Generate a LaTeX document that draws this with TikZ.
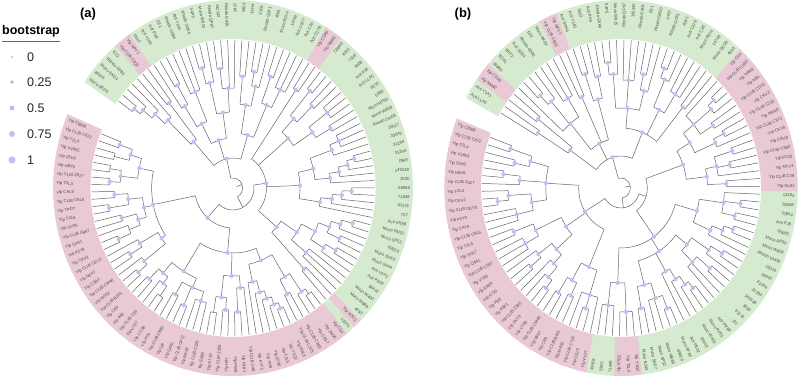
\documentclass[tikz,border=0pt]{standalone}
\usepackage{fontspec}
\setmainfont{Liberation Sans}
\definecolor{bgreen}{RGB}{213,234,207}
\definecolor{bpink}{RGB}{232,201,213}
\definecolor{bdot}{RGB}{192,192,248}
\definecolor{brc}{RGB}{100,100,100}
\definecolor{labc}{RGB}{75,75,75}
\newcount\leafidx
\newif\iffirstdone
\def\curR{0}
\def\retA{0}
\def\childdone{\iffirstdone\else\let\myFirst\retA\firstdonetrue\fi}
\tikzset{
  br/.style={draw=brc,line width=0.5pt},
  bs/.style={fill=bdot},
  lab/.style={font=\fontsize{4.2}{5}\selectfont,text=labc,inner sep=0pt},
  legtxt/.style={font=\fontsize{12.5}{14}\selectfont,text=black!85,inner sep=0pt,anchor=west}
}
\newcommand\Lf[2]{%
  \pgfmathsetmacro\la{\aZero+\the\leafidx*\aStep}%
  \pgfmathsetmacro\lo{\la-\aStep/2-0.2}%
  \pgfmathsetmacro\hi{\la+\aStep/2+0.2}%
  \fill[#1] (\lo:\bandIn pt) arc[start angle=\lo,end angle=\hi,radius=\bandIn pt] -- (\hi:\bandOut pt) arc[start angle=\hi,end angle=\lo,radius=\bandOut pt] -- cycle;%
  \draw[br] (\la:\curR pt) -- (\la:\tipR pt);%
  \pgfmathsetmacro\cs{cos(\la)}%
  \edef\nm{\tp\the\leafidx}%
  \ifdim\cs pt<0pt
    \pgfmathsetmacro\lr{\la+180}%
    \node[lab,rotate=\lr,anchor=west] (\nm) at (\la:\labR pt) {#2};%
  \else
    \node[lab,rotate=\la,anchor=east] (\nm) at (\la:\labR pt) {#2};%
  \fi
  \xdef\retA{\la}%
  \global\advance\leafidx by 1
  \childdone}
\newcommand\Lp[1]{\Lf{bpink}{#1}}
\newcommand\Lg[1]{\Lf{bgreen}{#1}}
\newcommand\Cl[3]{%
  \begingroup
    \let\parR\curR
    \def\curR{#1}%
    \firstdonefalse
    #3%
    \pgfmathsetmacro\ownA{(\myFirst+\retA)/2}%
    \draw[br] (\myFirst:#1pt) arc[start angle=\myFirst,end angle=\retA,radius=#1pt];%
    \draw[br] (\ownA:\parR pt) -- (\ownA:#1pt);%
    \ifdim #2pt>0pt \fill[bs] (\ownA:#1pt) circle[radius=#2pt];\fi
    \xdef\retA{\ownA}%
  \endgroup
  \childdone}
\begin{document}
\begin{tikzpicture}[x=1pt,y=1pt]
\useasboundingbox (0,0) rectangle (798,377);
% ---------------- legend
\node[font=\bfseries\fontsize{12.5}{14}\selectfont,inner sep=0pt,anchor=west] (ttl) at (2,346) {bootstrap};
\draw[black!60,line width=0.6pt] ([yshift=-4pt]ttl.south west) -- ([yshift=-4pt]ttl.south east);
\fill[bdot!70!gray!60] (12,320) circle[radius=1.3];
\node[legtxt] (l0) at (27,320) {0};
\fill[bdot!85!gray] (12,295) circle[radius=1.8];
\node[legtxt] (l1) at (27,295) {0.25};
\fill[bdot!90!gray] (12,269) circle[radius=2.4];
\node[legtxt] (l2) at (27,269) {0.5};
\fill[bdot] (12,243) circle[radius=3.0];
\node[legtxt] (l3) at (27,243) {0.75};
\fill[bdot] (12,217) circle[radius=3.6];
\node[legtxt] (l4) at (27,217) {1};
\node[font=\bfseries\fontsize{13}{15}\selectfont,inner sep=0pt] (pa) at (88,363) {(a)};
\node[font=\bfseries\fontsize{13}{15}\selectfont,inner sep=0pt] (pb) at (463,363) {(b)};
% ---------------- tree (a)
\begin{scope}[shift={(233,189)},xscale=0.957]
\def\tp{a}\def\aZero{158.5}\def\aStep{2.879}
\def\bandIn{149}\def\bandOut{188}\def\tipR{148}\def\labR{185}
\global\leafidx=0
\def\curR{4}
\Cl{10}{0}{%
 \Cl{22}{0}{%
  \Cl{40}{2.2}{%
   \Cl{85}{2.2}{%
    \Cl{100}{2.2}{%
     \Cl{112}{2.2}{\Cl{126}{2.2}{\Lp{Ylp CBM8}\Lp{Ylp CLIB C8J2}}\Cl{128}{0}{\Lp{Ylp T2L4}\Lp{Ylp VV961}}}%
     \Cl{118}{2.2}{\Cl{130}{1.6}{\Lp{Ylp Z5H2}\Lp{Ylp H8V6}}\Cl{129}{2.2}{\Lp{Ylp CLIB Z527}\Lp{Ylp T2L3}}}%
    }%
    \Cl{95}{2.2}{%
     \Cl{110}{2.2}{\Cl{124}{2.2}{\Lp{Ylp CAL9}\Lp{Ylp CLIB C6L5}}\Cl{131}{2.2}{\Lp{Ylp TPD7}\Lp{Ylp T2L6}}}%
     \Cl{104}{2.2}{\Cl{120}{2.2}{\Lp{Ylp VV35}\Lp{Ylp CLIB C667}}\Cl{116}{0}{\Lp{Ylp Q441}\Cl{130}{2.2}{\Lp{Ylp P279}\Lp{Ylp CKV2}}}}%
    }%
    \Cl{90}{2.2}{%
     \Cl{112}{2.2}{\Lp{Ylp CLIB CEY5}\Cl{126}{2.2}{\Lp{Ylp NF47}\Lp{Ylp C383}}}%
     \Cl{118}{2.2}{\Lp{Ylp CLIB CM46}\Cl{130}{2.2}{\Lp{Ylp NG52}\Lp{Ylp CLIB B301}}}%
    }%
   }%
   \Cl{65}{2.2}{%
    \Cl{98}{2.2}{%
     \Cl{112}{2.2}{\Cl{126}{2.2}{\Lp{Ylp C69}\Lp{Ylp A85}}\Cl{120}{2.2}{\Lp{Ylp CLIB C35}\Cl{132}{0}{\Lp{Ylp VT27}\Lp{Ylp CO18}}}}%
     \Cl{108}{2.2}{\Cl{122}{2.2}{\Lp{Ylp P75}\Lp{Ylp CLIB C880}}\Cl{128}{2.2}{\Lp{Ylp Q8}\Lp{Ylp Q442}}\Cl{118}{2.2}{\Lp{Ylp CLIB CP72}\Lp{Ylp M458}\Lp{Ylp CLIB C225}}}%
    }%
    \Cl{88}{2.2}{%
     \Cl{110}{2.2}{\Cl{126}{0}{\Lp{Ylp E969}\Lp{Ylp A7J0}}\Cl{122}{2.2}{\Lp{Ylp CLIB Z305}\Lp{Ylp H97}}}%
     \Cl{100}{2.2}{\Cl{124}{2.2}{\Lp{Ylp PW8}\Lp{Ylp NL81}}\Lp{Ylp CLIB C48}}%
    }%
    \Cl{78}{2.2}{%
     \Cl{96}{2.2}{\Lp{Ylp KY72}\Cl{108}{2.2}{\Lp{Ylp FH8}\Cl{116}{2.2}{\Lp{Ylp Z208}\Cl{124}{2.2}{\Lp{Ylp T2L5}\Cl{130}{2.2}{\Lp{Ylp Y1Q2}\Lp{Ylp R6L3}}}}}}%
     \Cl{104}{2.2}{\Cl{120}{2.2}{\Lp{Ylp CLIB C375}\Lp{Ylp CLIB C360}}\Cl{126}{2.2}{\Lp{Ylp CR17}\Cl{132}{0}{\Lp{Ylp Z6D6}\Lp{Ylp C54}}}}%
    }%
   }%
  }%
  \Cl{35}{2.2}{%
   \Cl{60}{2.2}{%
    \Cl{110}{2.2}{\Lg{13203}\Lp{Ylp R7D2}}%
    \Cl{80}{2.2}{%
     \Cl{100}{2.2}{\Lg{4053}\Lg{Muco W889}\Lg{Muco W402}}%
     \Cl{96}{2.2}{\Cl{112}{2.2}{\Lg{84442}\Cl{124}{2.2}{\Lg{Acti PE02}\Lg{Acti V1A1}}}\Cl{108}{2.2}{\Cl{122}{2.2}{\Lg{Muco SFA4}\Lg{Muco SHD1}}\Cl{118}{2.2}{\Lg{69819}\Cl{130}{2.2}{\Lg{Muco SP52}\Lg{Muco RP51}}}}}%
    }%
   }%
   \Cl{70}{2.2}{%
    \Cl{92}{2.2}{\Lg{Acti PR89}\Cl{104}{2.2}{\Lg{757}\Cl{114}{2.2}{\Lg{61176}\Cl{124}{2.2}{\Lg{71849}\Lg{28098}}}}}%
    \Cl{86}{2.2}{\Cl{102}{2.2}{\Lg{3030}\Cl{112}{2.2}{\Lg{145138}\Cl{122}{2.2}{\Lg{2969}\Cl{130}{2.2}{\Lg{31293}\Lg{31294}}}}}\Cl{110}{2.2}{\Lg{33042}\Cl{120}{2.2}{\Lg{15027}\Lg{Rhodo GH08}\Lg{Muco W608}}}}%
   }%
   \Cl{76}{2.2}{%
    \Cl{100}{2.2}{\Cl{118}{2.2}{\Lg{Muco RP50}\Lg{5690}}\Cl{124}{2.2}{\Lg{6310}\Lg{Acti LLF0}\Lg{Acti PJ8}}}%
    \Cl{94}{2.2}{\Cl{116}{2.2}{\Lg{6568}\Lg{7328}}\Cl{126}{2.2}{\Lg{8232}\Lg{CB683}}}%
   }%
   \Cl{118}{2.2}{\Lp{Ylp NM82}\Lp{Ylp C3A5}}%
  }%
 }%
 \Cl{30}{2.2}{%
  \Cl{55}{2.2}{%
   \Cl{90}{2.2}{\Cl{110}{2.2}{\Lg{Acti C378}\Lg{Acti C30}\Lg{Acti C3C7}}\Cl{118}{2.2}{\Lg{14749}\Lg{Muco R574}}}%
   \Cl{84}{2.2}{\Cl{104}{2.2}{\Lg{4041}\Cl{118}{2.2}{\Lg{Rhodo Q0F1}\Lg{3303}}}\Cl{112}{2.2}{\Lg{J3H4}\Lg{5803}}}%
  }%
  \Cl{50}{2.2}{%
   \Cl{76}{2.2}{\Cl{100}{2.2}{\Lg{3437}\Lg{Rhodo G830}\Cl{120}{2.2}{\Lg{142142}\Lg{Rhodo QP97}}}\Cl{108}{2.2}{\Lg{Muco W815}\Cl{124}{2.2}{\Lg{54P5}\Lg{Rhodo G0K4}}}}%
   \Cl{72}{2.2}{\Cl{104}{2.2}{\Lg{Acti Y144}\Lg{Rhodo G084}\Lg{E31}}\Cl{96}{2.2}{\Cl{118}{2.2}{\Lg{Acti PH4}\Lg{Acti Y140}}\Lg{5510}}}%
  }%
  \Cl{62}{2.2}{%
   \Cl{108}{2.2}{\Lp{Ylp NPY7}\Lp{Ylp CLIB C822}}%
   \Cl{96}{2.2}{\Lg{E22}\Cl{110}{2.2}{\Lg{Rhodo G080}\Cl{122}{2.2}{\Lg{Muco SKE4}\Cl{130}{2.2}{\Lg{80074}\Lg{Muco SED5}}}}}%
  }%
 }%
}
\end{scope}
% ---------------- tree (b)
\begin{scope}[shift={(621,189)},xscale=0.94]
\def\tp{b}\def\aZero{160}\def\aStep{3.04}
\def\bandIn{149}\def\bandOut{188}\def\tipR{148}\def\labR{185}
\global\leafidx=0
\def\curR{4}
\Cl{10}{0}{%
 \Cl{20}{0}{%
  \Cl{45}{2.2}{%
   \Cl{80}{2.2}{%
    \Cl{100}{2.2}{\Cl{124}{2.2}{\Lp{Ylp CBM8}\Lp{Ylp CLIB C8J2}}\Cl{116}{2.2}{\Lp{Ylp T2L4}\Lp{Ylp VV961}}}%
    \Cl{108}{2.2}{\Cl{126}{2.2}{\Lp{Ylp Z5H2}\Lp{Ylp H8V6}}\Lp{Ylp CLIB Z527}}%
    \Cl{96}{2.2}{\Cl{120}{2.2}{\Lp{Ylp T2L3}\Cl{132}{2.2}{\Lp{Ylp CKV2}\Lp{Ylp CLIB CEY5}}}\Cl{114}{2.2}{\Lp{Ylp P279}\Lp{Ylp CAL9}\Lp{Ylp CLIB C6L5}}}%
   }%
   \Cl{70}{2.2}{%
    \Cl{100}{2.2}{\Cl{122}{2.2}{\Lp{Ylp T2L6}\Lp{Ylp TPD7}}\Cl{116}{2.2}{\Lp{Ylp Q441}\Lp{Ylp CLIB C667}\Lp{Ylp VV35}}}%
    \Cl{92}{2.2}{\Cl{110}{2.2}{\Lp{Ylp E969}\Cl{124}{2.2}{\Lp{Ylp A7J0}\Lp{Ylp P88}}}\Cl{104}{2.2}{\Lp{Ylp P8F1}\Cl{118}{2.2}{\Lp{Ylp CLIB Z305}\Cl{128}{2.2}{\Lp{Ylp SV73}\Lp{Ylp CF63}}}}}%
   }%
   \Cl{86}{2.2}{%
    \Cl{106}{2.2}{\Cl{124}{2.2}{\Lp{Ylp CLIB CM46}\Lp{Ylp NF47}}\Cl{120}{2.2}{\Lp{Ylp C69}\Lp{Ylp CLIB B301}}}%
    \Cl{112}{2.2}{\Lp{Ylp M458}\Cl{126}{2.2}{\Lp{Ylp CLIB C7J5}\Lp{Ylp C3J9}}\Lp{Ylp VV27}}%
   }%
  }%
  \Cl{28}{0}{%
   \Cl{60}{2.2}{%
    \Cl{95}{2.2}{\Cl{118}{2.2}{\Lg{49503}\Lg{5390}\Lg{71849}}\Cl{124}{2.2}{\Lp{Ylp R7D2}\Lp{Ylp T2L5}\Lp{Ylp Y1Q2}}}%
    \Cl{75}{2.2}{%
     \Cl{100}{2.2}{\Cl{122}{2.2}{\Lg{Muco B244}\Lg{Muco SH07}}\Cl{116}{2.2}{\Lg{Muco SP52}\Lg{Muco W889}\Cl{130}{2.2}{\Lg{69819}\Lg{Muco SFA4}}}}%
     \Cl{96}{2.2}{\Lg{Acti PE02}\Cl{108}{2.2}{\Lg{84442}\Cl{118}{2.2}{\Lg{Muco W402}\Cl{126}{2.2}{\Lg{Muco RP51}\Lg{Acti PR89}}}}}%
     \Cl{90}{2.2}{\Cl{106}{2.2}{\Lg{757}\Lg{61176}\Cl{124}{2.2}{\Lg{3030}\Lg{145138}}}\Cl{112}{2.2}{\Lg{31293}\Cl{126}{2.2}{\Lg{31294}\Lg{33042}}}}%
    }%
    \Cl{84}{2.2}{%
     \Cl{104}{2.2}{\Lg{15210}\Cl{116}{2.2}{\Lg{Rhodo GH08}\Cl{126}{2.2}{\Lg{Muco W608}\Lg{Muco RP50}}}}%
     \Cl{110}{2.2}{\Cl{124}{2.2}{\Lg{65685}\Lg{Acti PJ8}}\Cl{128}{2.2}{\Lg{70934}\Lg{28098}}\Lg{13203}}%
    }%
   }%
   \Cl{70}{2.2}{%
    \Cl{92}{2.2}{\Cl{112}{2.2}{\Lp{Ylp NL81}\Lp{Ylp CLIB C38}}\Cl{104}{2.2}{\Lp{Ylp NTY3}\Cl{118}{2.2}{\Lp{Ylp P220}\Lp{Ylp CLIB C880}}\Cl{124}{2.2}{\Lp{Ylp CKU8}\Lp{Ylp CKV5}}}}%
    \Cl{86}{2.2}{\Cl{110}{2.2}{\Lp{Ylp CLIB C372}\Cl{122}{2.2}{\Lp{Ylp M4N6}\Lp{Ylp CLIB C225}}}\Cl{100}{2.2}{\Cl{116}{2.2}{\Lp{Ylp CKV3}\Lp{Ylp CLIB CD10}}\Cl{124}{2.2}{\Lp{Ylp NBL}\Cl{132}{2.2}{\Lp{Ylp N4M2}\Lp{Ylp CLIB C360}}}\Lp{Ylp C54}}}%
   }%
  }%
 }%
 \Cl{32}{2.2}{%
  \Cl{60}{2.2}{%
   \Cl{104}{2.2}{\Lg{4053}\Lg{Muco SED5}}%
   \Cl{88}{2.2}{\Cl{110}{2.2}{\Lg{14749}\Lg{Muco R574}\Lg{Acti C30}}\Cl{118}{2.2}{\Lg{Acti C378}\Cl{128}{2.2}{\Lg{4041}\Lg{Rhodo Q0F1}}}}%
   \Cl{80}{2.2}{\Cl{100}{2.2}{\Lg{3437}\Cl{116}{2.2}{\Lg{Rhodo G830}\Lg{E31}}}\Cl{108}{2.2}{\Lg{Rhodo G804}\Lg{142142}\Lg{Rhodo QP97}}\Cl{114}{2.2}{\Lg{Muco W815}\Cl{126}{2.2}{\Lg{54P5}\Lg{Rhodo G0K4}}}}%
  }%
  \Cl{50}{2.2}{%
   \Cl{92}{2.2}{\Cl{114}{2.2}{\Lg{Acti PH4}\Lg{5510}}\Cl{120}{2.2}{\Lg{Acti Y140}\Lg{Acti SPH4}}}%
   \Cl{100}{2.2}{\Lp{Ylp NPY7}\Lp{Ylp CLIB C822}}%
   \Cl{84}{2.2}{\Cl{106}{2.2}{\Lg{Muco SKE4}\Lg{E22}\Lg{Rhodo G080}}\Cl{114}{2.2}{\Lg{Acti G0E4}\Cl{126}{2.2}{\Lg{B5T2}\Lg{B2A1}}}\Lg{7896D}}%
  }%
  \Cl{66}{2.2}{%
   \Cl{112}{2.2}{\Lp{Ylp C3A5}\Lp{Ylp NM82}}%
   \Cl{104}{2.2}{\Lg{Acti Y1A1}\Lg{Acti LLF0}}%
  }%
 }%
}
\end{scope}
\end{tikzpicture}
\end{document}
